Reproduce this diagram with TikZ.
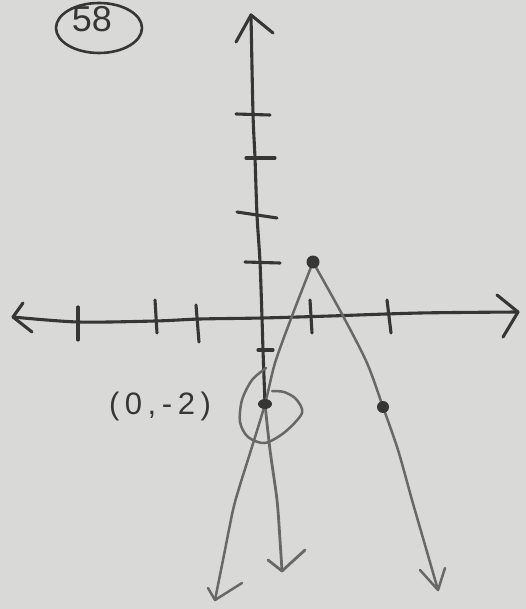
\documentclass[tikz,border=0pt]{standalone}
\usepackage{fontspec}
\setmainfont{Liberation Sans}
\usetikzlibrary{shapes.geometric}
\definecolor{paper}{HTML}{D9D9D7}
\definecolor{ink}{HTML}{363636}
\definecolor{pencil}{HTML}{686868}
\tikzset{
  axisline/.style={draw=ink, line width=3.1pt, line cap=round, line join=round},
  curveline/.style={draw=pencil, line width=2.5pt, line cap=round, line join=round},
  tickline/.style={draw=ink, line width=3.1pt, line cap=round},
  dotmark/.style={circle, fill=ink, inner sep=0pt, minimum size=13pt},
  handtext/.style={text=ink, inner sep=0pt},
}
\begin{document}
\begin{tikzpicture}[x=1pt,y=-1pt]
\useasboundingbox (0,0) rectangle (526,609);
\fill[paper] (0,0) rectangle (526,609);

% key points
\coordinate (ytop) at (251,15);
\coordinate (ybot) at (282,571);
\coordinate (xleft) at (13,317);
\coordinate (xright) at (518,312);
\coordinate (vtx) at (313,262);
\coordinate (yi) at (265,404);
\coordinate (rp) at (383,407);
\coordinate (ltip) at (215,600);
\coordinate (rtip) at (438,590);

% x-axis
\draw[axisline] plot[smooth] coordinates {(xleft) (78,322) (155,321) (200,319) (262,318) (330,316) (420,313) (xright)};
\draw[axisline] (23,303) -- (xleft) -- (32,332);
\draw[axisline] (497,295) -- (xright) -- (503,337);
\foreach \a/\b/\c/\d in {78/307/78/340, 155/300/157/333, 196/305/199/342, 310/300/312/333, 387/300/391/333}
  \draw[tickline] (\a,\b) -- (\c,\d);

% y-axis
\draw[axisline] plot[smooth] coordinates {(ytop) (253,114) (255,158) (257,215) (260,262) (262,318) (263,350) (yi)};
\draw[curveline, line width=2.8pt] plot[smooth] coordinates {(yi) (270,450) (277,500) (280,540) (ybot)};
\draw[axisline] (236,42) -- (ytop) -- (273,33);
\draw[curveline, line width=2.8pt] (268,560) -- (ybot) -- (305,550);
\draw[tickline] (236,114) -- (270,115);
\draw[tickline] (246,158) -- (275,158);
\draw[tickline] (237,212) -- (277,218);
\draw[tickline] (245,262) -- (280,263);
\draw[tickline] (258,350) -- (273,350);

% parabola
\draw[curveline] plot[smooth] coordinates {(vtx) (292,316) (275,363) (yi) (251,450) (240,485) (233,510) (224,555) (ltip)};
\draw[curveline] plot[smooth] coordinates {(vtx) (343,316) (367,363) (rp) (398,450) (412,500) (425,545) (rtip)};
\draw[curveline] (208,588) -- (ltip) -- (242,583);
\draw[curveline] (420,570) -- (rtip) -- (445,568);

% loop around y-intercept
\draw[curveline] plot[smooth] coordinates {(266,368) (252,380) (242,400) (240,422) (248,437) (265,443) (285,432) (302,413) (296,399) (284,392) (272,391)};

% points
\node[dotmark] (vertex) at (vtx) {};
\node[dotmark, minimum size=12pt] (point) at (rp) {};
\node[ellipse, fill=ink, inner sep=0pt, minimum width=14pt, minimum height=10pt] (yint) at (yi) {};

% labels
\node[handtext, font=\fontsize{36}{36}\selectfont] (num) at (92,19) {58};
\draw[axisline, line width=2.6pt] (99,28) ellipse [x radius=43, y radius=25];
\node[handtext, font=\fontsize{31}{31}\selectfont\addfontfeature{LetterSpace=18}] (lab) at (160,406) {(0,-2)};
\end{tikzpicture}
\end{document}
